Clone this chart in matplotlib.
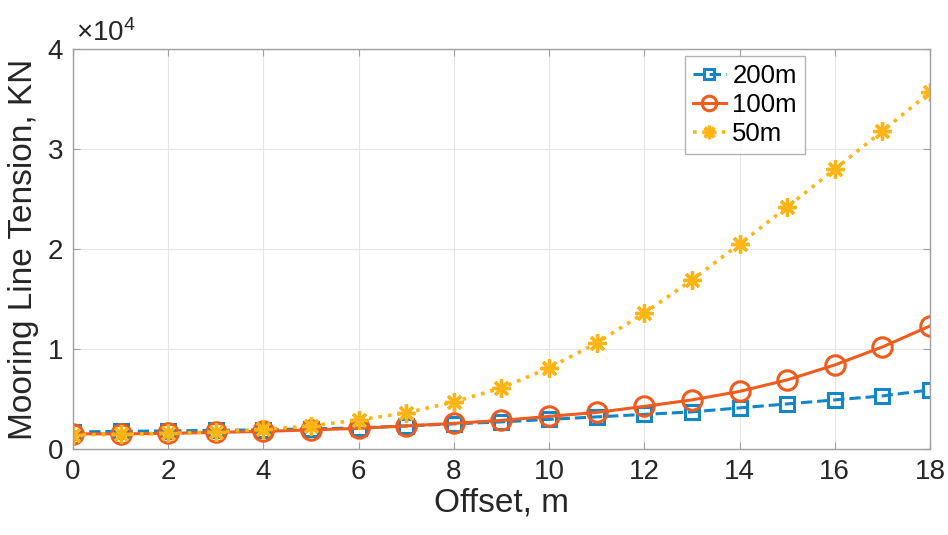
import numpy as np
import matplotlib.pyplot as plt

plt.rcParams['font.family'] = ['Liberation Sans', 'DejaVu Sans']
plt.rcParams['mathtext.fontset'] = 'custom'
plt.rcParams['mathtext.rm'] = 'Liberation Sans'
plt.rcParams['mathtext.it'] = 'Liberation Sans:italic'

# offset (m) and mooring line tension (kN) for three water depths
offset = np.arange(0, 19)
t_200m = [1700, 1750, 1800, 1850, 1900, 2000, 2100, 2300, 2500, 2700,
          2950, 3200, 3450, 3700, 4100, 4500, 4900, 5300, 5900]
t_100m = [1500, 1500, 1550, 1650, 1750, 1900, 2050, 2300, 2550, 2850,
          3250, 3650, 4250, 4900, 5750, 6900, 8400, 10200, 12300]
t_50m = [1400, 1450, 1550, 1700, 1950, 2300, 2900, 3600, 4700, 6100,
         8100, 10600, 13600, 16900, 20500, 24200, 28000, 31800, 35700]

blue = '#1387C6'
orange = '#F05B1E'
yellow = '#FDB515'
asterisk = (8, 2, 0)

fig = plt.figure(figsize=(9.48, 5.35), dpi=100)
ax = fig.add_axes([0.077, 0.161, 0.904, 0.747])

ax.plot(offset, t_200m, '--', marker='s', color=blue, lw=2.2, ms=9.5, mfc='none', mew=2.2, label='200m')
ax.plot(offset, t_100m, '-', marker='o', color=orange, lw=2.2, ms=14, mfc='none', mew=2.2, label='100m')
ax.plot(offset, t_50m, ':', marker=asterisk, color=yellow, lw=2.6, ms=13, mew=2.4, label='50m')

ax.set_xlim(0, 18)
ax.set_ylim(0, 40000)
ax.set_xticks(np.arange(0, 19, 2))
ax.set_yticks([0, 10000, 20000, 30000, 40000])
ax.set_yticklabels(['0', '1', '2', '3', '4'])
ax.text(0.003, 1.006, r'$\times10^4$', transform=ax.transAxes, fontsize=20,
        color='#262626', ha='left', va='bottom')

ax.grid(True, color='#e6e6e6', lw=0.8)
ax.set_axisbelow(True)
for s in ax.spines.values():
    s.set_color('#a0a0a0')
    s.set_linewidth(1.0)
ax.tick_params(direction='in', length=5, width=0.8, color='#a0a0a0',
               labelsize=20, labelcolor='#262626', top=True, right=True, pad=7)

ax.set_xlabel('Offset, m', fontsize=24, color='#262626', labelpad=2)
ax.set_ylabel('Mooring Line Tension, KN', fontsize=24, color='#262626', labelpad=6)

leg = ax.legend(loc='upper left', bbox_to_anchor=(0.708, 0.995), fontsize=18.5,
                handlelength=1.3, handletextpad=0.25, borderpad=0.3,
                labelspacing=0.2, fancybox=False, markerscale=0.75,
                borderaxespad=0.2)
leg.get_frame().set_edgecolor('#a0a0a0')
leg.get_frame().set_linewidth(1.0)

fig.savefig('out.png', dpi=100)
